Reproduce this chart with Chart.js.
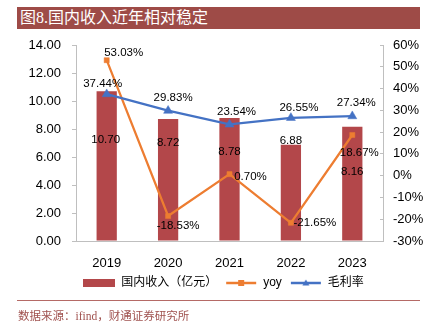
<!DOCTYPE html>
<html>
<head>
<meta charset="utf-8">
<script src="https://cdn.jsdelivr.net/npm/chart.js@4"></script>
<style>
  html, body { margin: 0; padding: 0; background: #fff; }
  #wrap { position: relative; width: 429px; height: 327px; overflow: hidden; }
  #title { position: absolute; left: 17px; top: 7px; width: 403px; height: 22px; background: #9E4B47;
           color: #fff; font: 16px "Liberation Serif", "Noto Sans CJK SC", serif; line-height: 22px; padding-left: 3px; box-sizing: border-box; }
  #sep { position: absolute; left: 17px; top: 300px; width: 403px; height: 1px; background: #B56A66; }
  #src { position: absolute; left: 18px; top: 307px; font: 11.5px "Liberation Serif", "Noto Sans CJK SC", serif; color: #A0524F; }
  canvas { position: absolute; left: 0; top: 0; }
</style>
</head>
<body>
<div id="wrap">
  <canvas id="c" width="429" height="327"></canvas>
  <div id="title">图8.国内收入近年相对稳定</div>
  <div id="sep"></div>
  <div id="src">数据来源：ifind，财通证券研究所</div>
</div>
<script>
// ---- data ----
const categories = ['2019', '2020', '2021', '2022', '2023'];
const revenue = [10.70, 8.72, 8.78, 6.88, 8.16];        // 国内收入（亿元）
const yoy = [53.03, -18.53, 0.70, -21.65, 18.67];        // yoy %
const grossMargin = [37.44, 29.83, 23.54, 26.55, 27.34]; // 毛利率 %
const leftTickLabels = ['0.00', '2.00', '4.00', '6.00', '8.00', '10.00', '12.00', '14.00'];
const rightTickLabels = ['-30%', '-20%', '-10%', '0%', '10%', '20%', '30%', '40%', '50%', '60%'];
const seriesNames = ['国内收入（亿元）', 'yoy', '毛利率'];

// ---- label offsets (style: pixel nudges from each mark) ----
const barLabelOffsets = [[-1, 49], [0, 24], [0, 34], [0, -4], [0, 45]];
const yoyLabelOffsets = [[17, -7], [10, 10], [21, 3], [24, 0], [7, 18]];
const gmLabelOffsets = [[-4, -10], [5, -13], [7, -13], [8, -10], [4, -13]];

const C_BAR = '#B3474A', C_YOY = '#ED7D31', C_GM = '#4472C4';
const FONT = '"Liberation Sans", "Noto Sans CJK SC", sans-serif';

function legendIcon(kind) {
  const cv = document.createElement('canvas');
  cv.width = 32; cv.height = 10;
  const g = cv.getContext('2d');
  if (kind === 'bar') {
    g.fillStyle = C_BAR; g.fillRect(0, 1, 32, 8);
  } else {
    const col = kind === 'yoy' ? C_YOY : C_GM;
    g.strokeStyle = col; g.lineWidth = 2.5;
    g.beginPath(); g.moveTo(1, 5); g.lineTo(31, 5); g.stroke();
    g.fillStyle = col;
    if (kind === 'yoy') { g.fillRect(13, 2, 6, 6); }
    else { g.beginPath(); g.moveTo(16, 1.5); g.lineTo(19.5, 7.5); g.lineTo(12.5, 7.5); g.closePath(); g.fill(); }
  }
  return cv;
}
const icons = [legendIcon('bar'), legendIcon('yoy'), legendIcon('gm')];

const dataLabels = {
  id: 'dataLabels',
  afterDatasetsDraw(chart) {
    const ctx = chart.ctx;
    ctx.save();
    ctx.font = '11.5px ' + FONT;
    ctx.fillStyle = '#000';
    ctx.textAlign = 'center';
    ctx.textBaseline = 'middle';
    const sets = [
      [0, revenue, barLabelOffsets, v => v.toFixed(2)],
      [1, yoy, yoyLabelOffsets, v => v.toFixed(2) + '%'],
      [2, grossMargin, gmLabelOffsets, v => v.toFixed(2) + '%']
    ];
    sets.forEach(([di, vals, offs, fmt]) => {
      const meta = chart.getDatasetMeta(di);
      meta.data.forEach((el, i) => {
        ctx.fillText(fmt(vals[i]), el.x + offs[i][0], el.y + offs[i][1]);
      });
    });
    ctx.restore();
  }
};

new Chart(document.getElementById('c'), {
  type: 'bar',
  data: {
    labels: categories,
    datasets: [
      { type: 'bar', label: seriesNames[0], data: revenue, yAxisID: 'y', backgroundColor: C_BAR,
        barPercentage: 0.33, categoryPercentage: 1, order: 3 },
      { type: 'line', label: seriesNames[1], data: yoy, yAxisID: 'y1', borderColor: C_YOY, backgroundColor: C_YOY,
        borderWidth: 2.25, pointStyle: 'rect', pointRadius: 3.6, pointBorderWidth: 0.5, tension: 0, order: 2 },
      { type: 'line', label: seriesNames[2], data: grossMargin, yAxisID: 'y1', borderColor: C_GM, backgroundColor: C_GM,
        borderWidth: 2.25, pointStyle: 'triangle', pointRadius: 5.2, pointBorderWidth: 0.5, tension: 0, order: 1 }
    ]
  },
  options: {
    responsive: false,
    animation: false,
    events: [],
    layout: { padding: { top: 45, left: 18, right: 0, bottom: 28 } },
    plugins: {
      tooltip: { enabled: false },
      legend: {
        position: 'bottom',
        labels: {
          usePointStyle: true,
          pointStyleWidth: 32,
          padding: 8,
          color: '#000',
          font: { size: 12, family: FONT },
          generateLabels: (chart) => seriesNames.map((n, i) => ({
            text: n, pointStyle: icons[i], fillStyle: 'transparent', strokeStyle: 'transparent',
            lineWidth: 0, datasetIndex: i, hidden: false, fontColor: '#000'
          }))
        }
      }
    },
    scales: {
      x: {
        grid: { display: false },
        border: { display: true, color: '#BFBFBF', width: 1 },
        ticks: { color: '#000', font: { size: 13, family: FONT }, padding: 7 },
        afterFit: s => { s.height = 28; }
      },
      y: {
        position: 'left', min: 0, max: 14,
        grid: { display: true, drawOnChartArea: false, drawTicks: true, tickLength: 4, color: '#BFBFBF' },
        border: { display: true, color: '#BFBFBF', width: 1 },
        ticks: { stepSize: 2, color: '#000', font: { size: 13, family: FONT }, padding: 11,
                 callback: (v, i) => leftTickLabels[i] },
        afterFit: s => { s.width = 58; }
      },
      y1: {
        position: 'right', min: -30, max: 60,
        grid: { display: true, drawOnChartArea: false, drawTicks: true, tickLength: -3, color: '#BFBFBF' },
        border: { display: true, color: '#BFBFBF', width: 1 },
        ticks: { stepSize: 10, color: '#000', font: { size: 13, family: FONT }, padding: 13,
                 callback: (v, i) => rightTickLabels[i] },
        afterFit: s => { s.width = 46; }
      }
    }
  },
  plugins: [dataLabels]
});
</script>
</body>
</html>
